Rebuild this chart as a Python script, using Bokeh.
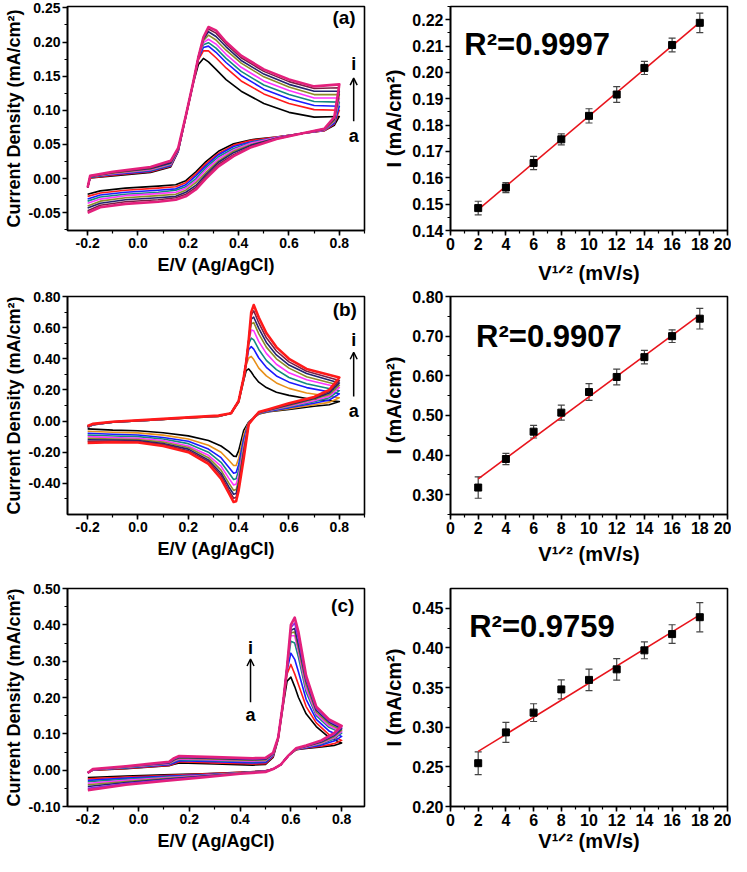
import numpy as np
from bokeh.plotting import figure
from bokeh.layouts import column, row
from bokeh.models import (Range1d, SingleIntervalTicker, NumeralTickFormatter, Label,
                          Arrow, OpenHead, Whisker, TeeHead, ColumnDataSource)
from bokeh.embed import file_html
from bokeh.resources import INLINE

FONT = "Liberation Sans"

# ---------------- Panel (a) CV data ----------------
A_E_FWD = [-0.2, -0.19, -0.1, 0.05, 0.13, 0.16, 0.19, 0.22, 0.24, 0.26, 0.28, 0.31, 0.35, 0.41, 0.5, 0.6, 0.7, 0.8]
A_I_FWD = [
    [-0.012, 0.001, 0.004, 0.009, 0.017, 0.040, 0.090, 0.140, 0.167, 0.176, 0.171, 0.160, 0.145, 0.128, 0.110, 0.097, 0.090, 0.091],
    [-0.012, 0.001, 0.005, 0.010, 0.018, 0.041, 0.090, 0.141, 0.174, 0.187, 0.187, 0.177, 0.162, 0.143, 0.124, 0.110, 0.101, 0.100],
    [-0.013, 0.002, 0.006, 0.011, 0.019, 0.041, 0.091, 0.141, 0.176, 0.192, 0.194, 0.185, 0.170, 0.151, 0.131, 0.117, 0.107, 0.106],
    [-0.013, 0.002, 0.007, 0.012, 0.020, 0.042, 0.091, 0.141, 0.177, 0.196, 0.199, 0.191, 0.176, 0.157, 0.137, 0.123, 0.113, 0.112],
    [-0.013, 0.003, 0.007, 0.013, 0.021, 0.042, 0.091, 0.142, 0.178, 0.199, 0.204, 0.197, 0.182, 0.163, 0.143, 0.129, 0.118, 0.118],
    [-0.013, 0.003, 0.008, 0.014, 0.022, 0.043, 0.092, 0.142, 0.178, 0.202, 0.210, 0.203, 0.188, 0.169, 0.149, 0.134, 0.123, 0.123],
    [-0.013, 0.003, 0.009, 0.015, 0.023, 0.043, 0.092, 0.142, 0.178, 0.204, 0.215, 0.208, 0.193, 0.173, 0.153, 0.138, 0.128, 0.128],
    [-0.013, 0.004, 0.009, 0.016, 0.025, 0.044, 0.092, 0.142, 0.178, 0.206, 0.219, 0.213, 0.197, 0.177, 0.157, 0.142, 0.132, 0.133],
    [-0.013, 0.004, 0.010, 0.017, 0.026, 0.045, 0.092, 0.142, 0.178, 0.207, 0.222, 0.217, 0.200, 0.180, 0.160, 0.145, 0.135, 0.138],
]
A_E_REV = [0.8, 0.78, 0.74, 0.65, 0.55, 0.45, 0.38, 0.32, 0.27, 0.23, 0.19, 0.15, 0.08, -0.05, -0.15, -0.2]
A_I_REV = [
    [0.091, 0.078, 0.070, 0.066, 0.061, 0.057, 0.051, 0.040, 0.025, 0.010, -0.003, -0.009, -0.011, -0.014, -0.018, -0.023],
    [0.100, 0.080, 0.070, 0.066, 0.061, 0.056, 0.049, 0.037, 0.022, 0.007, -0.006, -0.012, -0.014, -0.017, -0.021, -0.026],
    [0.106, 0.081, 0.071, 0.066, 0.060, 0.054, 0.047, 0.035, 0.019, 0.004, -0.009, -0.015, -0.017, -0.020, -0.024, -0.030],
    [0.112, 0.083, 0.071, 0.066, 0.060, 0.053, 0.044, 0.032, 0.016, 0.000, -0.012, -0.017, -0.020, -0.023, -0.027, -0.033],
    [0.118, 0.084, 0.071, 0.066, 0.060, 0.052, 0.042, 0.029, 0.013, -0.003, -0.014, -0.020, -0.022, -0.025, -0.030, -0.036],
    [0.123, 0.085, 0.072, 0.066, 0.059, 0.050, 0.040, 0.026, 0.009, -0.006, -0.017, -0.023, -0.025, -0.028, -0.033, -0.040],
    [0.128, 0.087, 0.072, 0.066, 0.059, 0.049, 0.038, 0.024, 0.006, -0.010, -0.020, -0.026, -0.028, -0.031, -0.036, -0.043],
    [0.133, 0.088, 0.073, 0.066, 0.058, 0.047, 0.035, 0.021, 0.003, -0.013, -0.023, -0.028, -0.031, -0.034, -0.039, -0.047],
    [0.138, 0.090, 0.073, 0.066, 0.058, 0.046, 0.033, 0.018, 0.000, -0.016, -0.026, -0.031, -0.034, -0.037, -0.042, -0.050],
]
A_COLORS = ["#000000", "#ff1a1a", "#1a1aff", "#138a7e", "#ff33ff", "#8c8c28", "#22226e", "#7a1f45", "#e3207c"]

# ---------------- Panel (b) CV data ----------------
B_E_FWD = [-0.2, -0.18, -0.1, 0.05, 0.2, 0.32, 0.37, 0.40, 0.42, 0.43, 0.44, 0.45, 0.46, 0.48, 0.51, 0.55, 0.6, 0.67, 0.8]
B_I_FWD = [
    [-0.040, -0.025, -0.008, 0.005, 0.020, 0.030, 0.05, 0.120, 0.260, 0.325, 0.335, 0.315, 0.290, 0.250, 0.215, 0.185, 0.165, 0.145, 0.125],
    [-0.040, -0.024, -0.008, 0.005, 0.020, 0.030, 0.05, 0.125, 0.270, 0.360, 0.405, 0.415, 0.395, 0.340, 0.290, 0.245, 0.210, 0.180, 0.150],
    [-0.038, -0.023, -0.007, 0.006, 0.021, 0.031, 0.05, 0.130, 0.275, 0.370, 0.460, 0.478, 0.462, 0.405, 0.345, 0.290, 0.250, 0.215, 0.175],
    [-0.037, -0.022, -0.007, 0.006, 0.021, 0.031, 0.05, 0.130, 0.280, 0.375, 0.495, 0.533, 0.522, 0.460, 0.390, 0.330, 0.280, 0.240, 0.195],
    [-0.036, -0.021, -0.006, 0.007, 0.022, 0.032, 0.05, 0.130, 0.280, 0.380, 0.510, 0.585, 0.580, 0.510, 0.435, 0.365, 0.310, 0.265, 0.215],
    [-0.035, -0.020, -0.006, 0.007, 0.022, 0.032, 0.05, 0.130, 0.280, 0.380, 0.515, 0.625, 0.632, 0.560, 0.475, 0.400, 0.340, 0.285, 0.230],
    [-0.034, -0.020, -0.005, 0.008, 0.023, 0.033, 0.05, 0.130, 0.280, 0.380, 0.520, 0.655, 0.667, 0.595, 0.505, 0.425, 0.360, 0.305, 0.245],
    [-0.033, -0.019, -0.005, 0.008, 0.023, 0.034, 0.05, 0.130, 0.280, 0.380, 0.520, 0.680, 0.708, 0.630, 0.535, 0.450, 0.380, 0.320, 0.260],
    [-0.032, -0.018, -0.004, 0.009, 0.024, 0.035, 0.05, 0.130, 0.280, 0.380, 0.520, 0.700, 0.745, 0.665, 0.565, 0.475, 0.400, 0.335, 0.280],
]
B_E_REV = [0.8, 0.76, 0.7, 0.6, 0.52, 0.48, 0.46, 0.44, 0.42, 0.40, 0.39, 0.38, 0.36, 0.33, 0.28, 0.2, 0.1, 0.0, -0.1, -0.2]
B_I_REV = [
    [0.125, 0.105, 0.095, 0.075, 0.060, 0.045, 0.020, -0.005, -0.060, -0.190, -0.228, -0.225, -0.195, -0.160, -0.125, -0.095, -0.075, -0.062, -0.058, -0.050],
    [0.150, 0.120, 0.105, 0.080, 0.062, 0.048, 0.020, -0.007, -0.090, -0.240, -0.285, -0.285, -0.250, -0.200, -0.155, -0.115, -0.090, -0.076, -0.072, -0.065],
    [0.175, 0.135, 0.115, 0.085, 0.064, 0.050, 0.020, -0.009, -0.115, -0.280, -0.330, -0.335, -0.295, -0.235, -0.180, -0.130, -0.105, -0.089, -0.085, -0.078],
    [0.195, 0.150, 0.125, 0.090, 0.066, 0.052, 0.020, -0.011, -0.140, -0.315, -0.370, -0.375, -0.330, -0.265, -0.200, -0.145, -0.115, -0.100, -0.096, -0.090],
    [0.215, 0.160, 0.130, 0.095, 0.068, 0.054, 0.020, -0.013, -0.160, -0.350, -0.405, -0.410, -0.365, -0.290, -0.220, -0.160, -0.125, -0.110, -0.106, -0.100],
    [0.230, 0.170, 0.140, 0.100, 0.070, 0.055, 0.020, -0.015, -0.180, -0.380, -0.440, -0.445, -0.395, -0.315, -0.235, -0.170, -0.135, -0.118, -0.115, -0.110],
    [0.245, 0.180, 0.145, 0.105, 0.072, 0.056, 0.020, -0.017, -0.200, -0.400, -0.465, -0.470, -0.420, -0.335, -0.250, -0.180, -0.145, -0.125, -0.122, -0.120],
    [0.260, 0.190, 0.150, 0.110, 0.074, 0.057, 0.020, -0.019, -0.220, -0.425, -0.490, -0.495, -0.440, -0.350, -0.260, -0.190, -0.150, -0.132, -0.129, -0.130],
    [0.280, 0.200, 0.155, 0.115, 0.076, 0.058, 0.020, -0.020, -0.240, -0.445, -0.515, -0.520, -0.460, -0.370, -0.275, -0.200, -0.160, -0.138, -0.136, -0.140],
]
B_COLORS = ["#000000", "#e8901a", "#1a1aff", "#138a7e", "#ff33ff", "#8c8c28", "#22226e", "#7a1f45", "#ff1a1a"]

# ---------------- Panel (c) CV data ----------------
C_E_FWD = [-0.2, -0.18, -0.05, 0.12, 0.14, 0.16, 0.3, 0.45, 0.5, 0.53, 0.55, 0.57, 0.585, 0.6, 0.615, 0.63, 0.66, 0.7, 0.75, 0.8]
C_I_FWD = [
    [-0.006, 0.000, 0.004, 0.012, 0.016, 0.020, 0.017, 0.014, 0.016, 0.035, 0.085, 0.180, 0.245, 0.256, 0.230, 0.200, 0.155, 0.120, 0.090, 0.075],
    [-0.006, 0.000, 0.005, 0.013, 0.018, 0.023, 0.020, 0.017, 0.018, 0.037, 0.087, 0.185, 0.265, 0.291, 0.265, 0.235, 0.175, 0.130, 0.098, 0.082],
    [-0.007, 0.001, 0.006, 0.015, 0.020, 0.026, 0.023, 0.020, 0.021, 0.040, 0.089, 0.190, 0.275, 0.322, 0.305, 0.270, 0.195, 0.140, 0.108, 0.093],
    [-0.007, 0.001, 0.007, 0.017, 0.023, 0.029, 0.026, 0.023, 0.024, 0.042, 0.090, 0.190, 0.280, 0.355, 0.350, 0.310, 0.215, 0.150, 0.118, 0.102],
    [-0.007, 0.001, 0.008, 0.018, 0.025, 0.031, 0.028, 0.025, 0.026, 0.043, 0.090, 0.190, 0.285, 0.370, 0.370, 0.325, 0.225, 0.155, 0.122, 0.106],
    [-0.008, 0.002, 0.009, 0.019, 0.027, 0.033, 0.030, 0.027, 0.028, 0.044, 0.090, 0.190, 0.285, 0.378, 0.380, 0.335, 0.235, 0.160, 0.127, 0.110],
    [-0.008, 0.002, 0.010, 0.020, 0.029, 0.035, 0.032, 0.029, 0.030, 0.045, 0.090, 0.190, 0.285, 0.385, 0.390, 0.345, 0.245, 0.165, 0.132, 0.114],
    [-0.008, 0.002, 0.010, 0.021, 0.031, 0.037, 0.034, 0.031, 0.032, 0.046, 0.090, 0.190, 0.285, 0.392, 0.405, 0.360, 0.250, 0.170, 0.136, 0.118],
    [-0.008, 0.003, 0.011, 0.023, 0.033, 0.039, 0.036, 0.033, 0.034, 0.048, 0.090, 0.190, 0.285, 0.400, 0.420, 0.380, 0.260, 0.175, 0.140, 0.122],
]
C_E_REV = [0.8, 0.77, 0.72, 0.66, 0.62, 0.59, 0.56, 0.53, 0.5, 0.4, 0.25, 0.1, -0.05, -0.2]
C_I_REV = [
    [0.075, 0.068, 0.064, 0.060, 0.056, 0.040, 0.015, 0.003, -0.002, -0.006, -0.010, -0.013, -0.016, -0.020],
    [0.082, 0.073, 0.066, 0.061, 0.056, 0.040, 0.015, 0.003, -0.002, -0.006, -0.011, -0.015, -0.019, -0.024],
    [0.093, 0.080, 0.069, 0.062, 0.057, 0.040, 0.015, 0.003, -0.003, -0.007, -0.013, -0.017, -0.022, -0.028],
    [0.102, 0.086, 0.072, 0.063, 0.057, 0.040, 0.015, 0.003, -0.003, -0.007, -0.014, -0.019, -0.025, -0.032],
    [0.106, 0.089, 0.074, 0.064, 0.058, 0.040, 0.015, 0.003, -0.003, -0.008, -0.015, -0.021, -0.028, -0.036],
    [0.110, 0.092, 0.076, 0.065, 0.058, 0.040, 0.015, 0.003, -0.004, -0.008, -0.016, -0.023, -0.031, -0.040],
    [0.114, 0.095, 0.078, 0.066, 0.059, 0.040, 0.015, 0.003, -0.004, -0.009, -0.017, -0.025, -0.034, -0.045],
    [0.118, 0.098, 0.080, 0.067, 0.059, 0.040, 0.015, 0.003, -0.004, -0.009, -0.018, -0.027, -0.037, -0.050],
    [0.122, 0.102, 0.082, 0.068, 0.060, 0.040, 0.015, 0.003, -0.005, -0.010, -0.020, -0.030, -0.040, -0.055],
]
C_COLORS = ["#000000", "#ff1a1a", "#1a1aff", "#138a7e", "#ff33ff", "#8c8c28", "#22226e", "#8a2be2", "#e3207c"]

# ---------------- Right panels: peak current vs V^1/2 ----------------
SCAN = [2, 4, 6, 8, 10, 12, 14, 16, 18]
RA_Y = [0.1485, 0.1563, 0.1656, 0.1746, 0.1835, 0.1916, 0.2017, 0.2104, 0.2188]
RA_ERR = [0.0026, 0.0019, 0.0025, 0.0021, 0.0027, 0.0030, 0.0025, 0.0026, 0.0037]
RB_Y = [0.318, 0.390, 0.459, 0.507, 0.559, 0.597, 0.647, 0.700, 0.744]
RB_ERR = [0.027, 0.014, 0.016, 0.019, 0.021, 0.020, 0.017, 0.016, 0.026]
RC_Y = [0.2546, 0.2935, 0.3184, 0.3477, 0.3597, 0.3730, 0.3970, 0.4175, 0.4388]
RC_ERR = [0.0144, 0.0126, 0.0112, 0.0120, 0.0136, 0.0136, 0.0106, 0.0118, 0.0185]
R2_TEXT = ["R\u00b2=0.9997", "R\u00b2=0.9907", "R\u00b2=0.9759"]

LEFT_W = 380
RIGHT_W = 351


def style_axes(p, tick_size, label_size):
    p.grid.visible = False
    p.outline_line_color = "black"
    p.outline_line_width = 1.6
    for ax in (p.xaxis[0], p.yaxis[0]):
        ax.axis_line_width = 1.6
        ax.major_tick_line_width = 1.6
        ax.minor_tick_line_width = 1.2
        ax.major_tick_out = 5
        ax.major_tick_in = 0
        ax.minor_tick_out = 3
        ax.minor_tick_in = 0
        ax.major_label_text_font = FONT
        ax.major_label_text_font_style = "bold"
        ax.major_label_text_font_size = tick_size
        ax.major_label_text_color = "black"
        ax.axis_label_text_font = FONT
        ax.axis_label_text_font_style = "bold"
        ax.axis_label_text_font_size = label_size
        ax.axis_label_text_color = "black"
        ax.major_label_standoff = 2


def txt(x, y, text, size, align="center"):
    return Label(x=x, y=y, text=text, text_align=align, text_baseline="middle",
                 text_font=FONT, text_font_style="bold", text_font_size=size,
                 text_color="black")


def cv_fig(height, top, bottom, xr, yr, yint, E_f, I_f, E_r, I_r, colors, tag, tagpos, arrow):
    p = figure(width=LEFT_W, height=height, x_range=Range1d(*xr), y_range=Range1d(*yr),
               output_backend="svg", toolbar_location=None,
               min_border_left=60, min_border_right=16, min_border_top=top, min_border_bottom=bottom)
    style_axes(p, "14px", "18px")
    p.xaxis.ticker = SingleIntervalTicker(interval=0.2, num_minor_ticks=2)
    p.xaxis.formatter = NumeralTickFormatter(format="0.0")
    p.yaxis.ticker = SingleIntervalTicker(interval=yint, num_minor_ticks=2)
    p.yaxis.formatter = NumeralTickFormatter(format="0.00")
    p.xaxis.axis_label = "E/V (Ag/AgCl)"
    p.yaxis.axis_label = "Current Density (mA/cm\u00b2)"
    p.xaxis.axis_label_standoff = 4
    p.yaxis.axis_label_standoff = 2
    n = len(colors)
    for k in range(n):
        xs = list(E_f) + list(E_r)
        ys = list(I_f[k]) + list(I_r[k])
        p.line(xs, ys, line_color=colors[k], line_width=2.6 if k == n - 1 else 1.6,
               line_join="round")
    p.add_layout(txt(tagpos[0], tagpos[1], tag, "19px", "right"))
    ax, y_i, y0, y1, y_a = arrow
    p.add_layout(txt(ax, y_i, "i", "18px"))
    p.add_layout(txt(ax, y_a, "a", "18px"))
    p.add_layout(Arrow(end=OpenHead(size=7, line_width=1.5, line_color="black"),
                       x_start=ax, y_start=y0, x_end=ax, y_end=y1,
                       line_width=1.5, line_color="black"))
    return p


def fit_fig(height, top, bottom, yr, yint, ys, errs, r2, r2pos, label_standoff):
    p = figure(width=RIGHT_W, height=height, x_range=Range1d(0, 20), y_range=Range1d(*yr),
               output_backend="svg", toolbar_location=None,
               min_border_left=70, min_border_right=4, min_border_top=top, min_border_bottom=bottom)
    style_axes(p, "16px", "20px")
    p.xaxis.ticker = SingleIntervalTicker(interval=2, num_minor_ticks=2)
    p.xaxis.formatter = NumeralTickFormatter(format="0")
    p.yaxis.ticker = SingleIntervalTicker(interval=yint, num_minor_ticks=2)
    p.yaxis.formatter = NumeralTickFormatter(format="0.00")
    p.xaxis.axis_label = "V\u00b9\u141f\u00b2 (mV/s)"
    p.yaxis.axis_label = "I (mA/cm\u00b2)"
    p.xaxis.axis_label_standoff = label_standoff
    p.yaxis.axis_label_standoff = 4
    x = np.array(SCAN, dtype=float)
    y = np.array(ys)
    e = np.array(errs)
    src = ColumnDataSource(dict(x=x, y=y, lo=y - e, hi=y + e))
    w = Whisker(base="x", upper="hi", lower="lo", source=src, line_color="#444444", line_width=1.2,
                upper_head=TeeHead(size=7, line_color="#444444", line_width=1.2),
                lower_head=TeeHead(size=7, line_color="#444444", line_width=1.2))
    w.level = "underlay"
    p.add_layout(w)
    slope, icpt = np.polyfit(x, y, 1)
    xf = np.array([x[0], x[-1]])
    p.line(xf, slope * xf + icpt, line_color="#e8141c", line_width=1.6)
    p.scatter("x", "y", source=src, marker="square", size=7, fill_color="black", line_color="black")
    p.add_layout(txt(r2pos[0], r2pos[1], r2, "31px", "left"))
    return p


pa = cv_fig(286, 4, 50, (-0.28, 0.9), (-0.076, 0.252), 0.05,
            A_E_FWD, A_I_FWD, A_E_REV, A_I_REV, A_COLORS, "(a)", (0.865, 0.236),
            (0.857, 0.168, 0.084, 0.147, 0.062))
qa = fit_fig(286, 6, 56, (0.14, 0.225), 0.01, RA_Y, RA_ERR, R2_TEXT[0], (1.0, 0.2107), 9)

pb = cv_fig(284, 8, 46, (-0.28, 0.9), (-0.6, 0.8), 0.2,
            B_E_FWD, B_I_FWD, B_E_REV, B_I_REV, B_COLORS, "(b)", (0.87, 0.715),
            (0.857, 0.52, 0.158, 0.442, 0.067))
qb = fit_fig(284, 10, 56, (0.25, 0.80), 0.1, RB_Y, RB_ERR, R2_TEXT[1], (1.85, 0.70), 6)

pc = cv_fig(284, 16, 46, (-0.28, 0.89), (-0.1, 0.5), 0.1,
            C_E_FWD, C_I_FWD, C_E_REV, C_I_REV, C_COLORS, "(c)", (0.85, 0.453),
            (0.441, 0.337, 0.187, 0.306, 0.153))
qc = fit_fig(284, 18, 44, (0.20, 0.475), 0.05, RC_Y, RC_ERR, R2_TEXT[2], (1.35, 0.427), 1)

layout = column(row(pa, qa), row(pb, qb), row(pc, qc))
open("out.html", "w").write(file_html(layout, INLINE))
